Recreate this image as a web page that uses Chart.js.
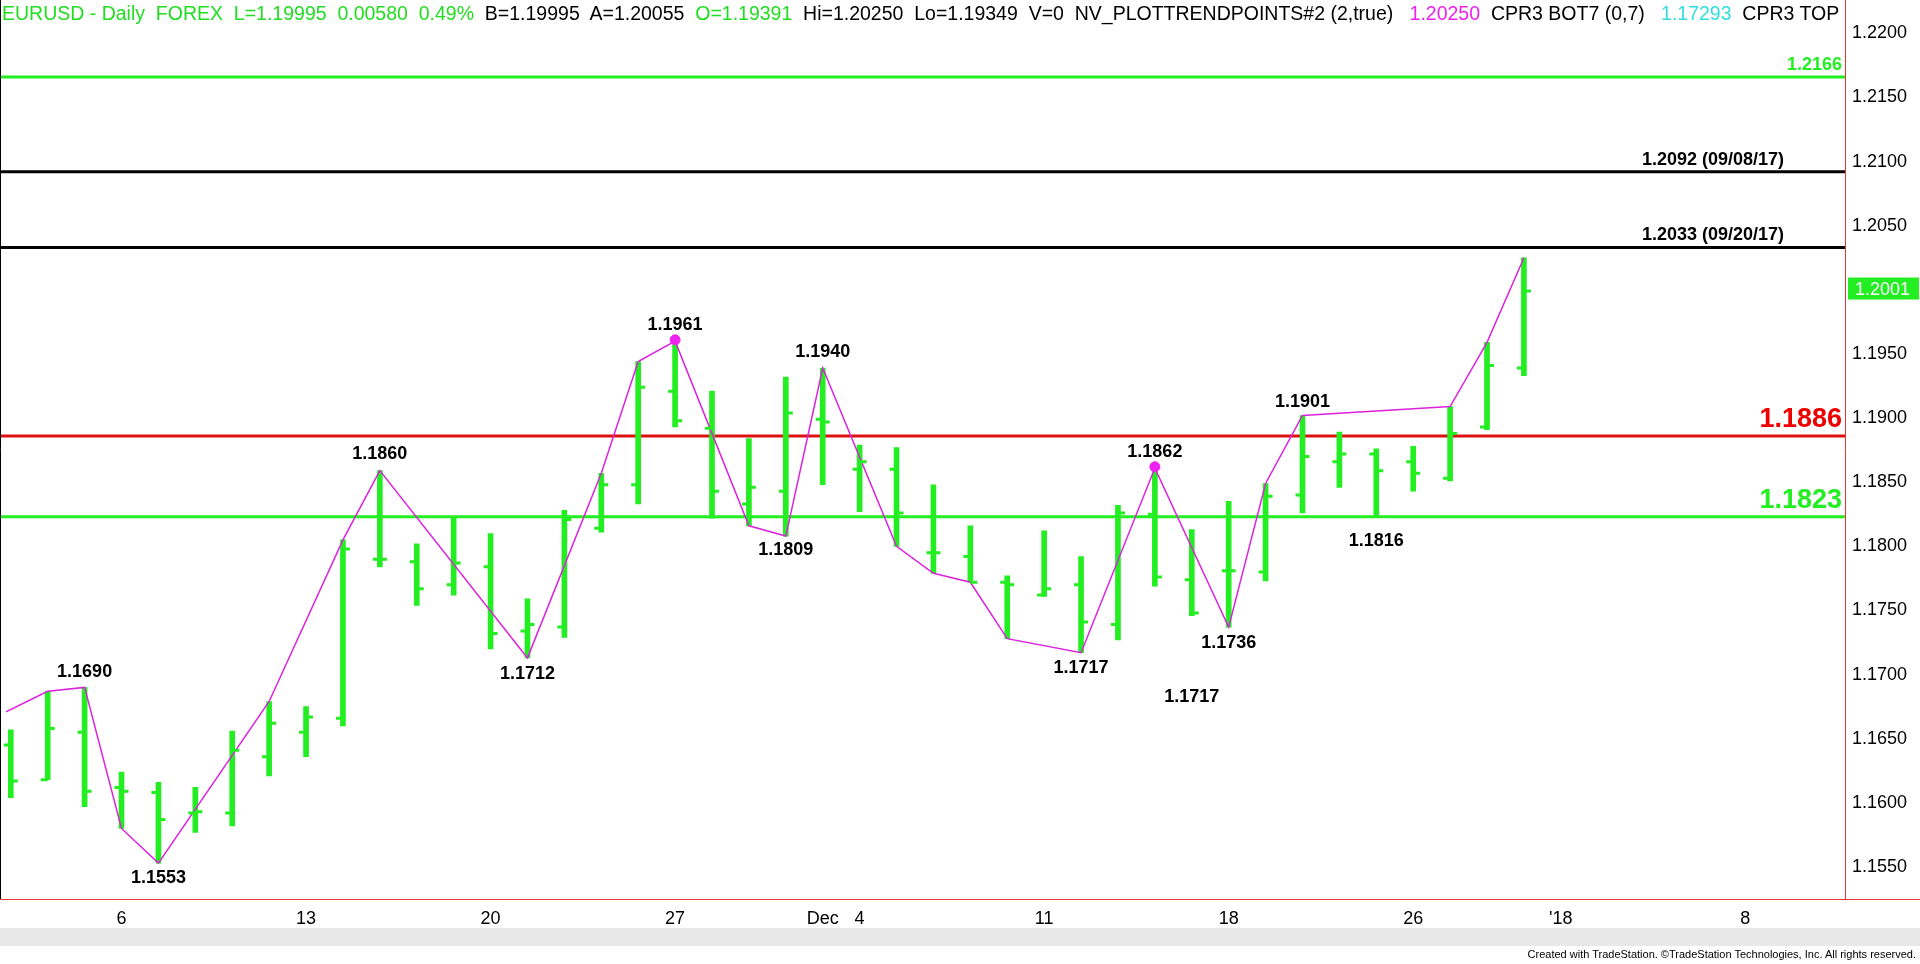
<!DOCTYPE html>
<html>
<head>
<meta charset="utf-8">
<script src="https://cdn.jsdelivr.net/npm/chart.js@4.4.0/dist/chart.umd.min.js"></script>
<style>
  html, body { margin: 0; padding: 0; background: #fff; overflow: hidden; }
  #wrap { position: relative; width: 1920px; height: 964px; }
  #title { position: absolute; left: 2px; top: 2px; width: 1840px; white-space: nowrap; overflow: hidden;
    font: 19.5px "Liberation Sans", Arial, sans-serif; color: #000; }
  #title .g { color: #22dd22; }
  #title .m { color: #ee22ee; }
  #title .c { color: #33dddd; }
  #scroll { position: absolute; left: 0; top: 928px; width: 1920px; height: 18px; background: #e8e8e8; }
  #foot { position: absolute; right: 4px; top: 948px; font: 11px "Liberation Sans", Arial, sans-serif; color: #000; }
</style>
</head>
<body>
<div id="wrap">
  <canvas id="chart" width="1920" height="964"></canvas>
  <div id="title"><span class="g">EURUSD - Daily&nbsp; FOREX&nbsp; L=1.19995&nbsp; 0.00580&nbsp; 0.49%</span>&nbsp; B=1.19995&nbsp; A=1.20055&nbsp; <span class="g">O=1.19391</span>&nbsp; Hi=1.20250&nbsp; Lo=1.19349&nbsp; V=0&nbsp; NV_PLOTTRENDPOINTS#2 (2,true)&nbsp;&nbsp; <span class="m">1.20250</span>&nbsp; CPR3 BOT7 (0,7)&nbsp;&nbsp; <span class="c">1.17293</span>&nbsp; CPR3 TOP ...</div>
  <div id="scroll"></div>
  <div id="foot">Created with TradeStation. ©TradeStation Technologies, Inc. All rights reserved.</div>
</div>
<script>
// bar index 1 = Nov 1 2017, trading days only
const opens  = [1.1645,1.1618,1.1655,1.1612,1.1608,1.1592,1.1592,1.1636,1.1655,1.1666,1.1790,1.1788,1.1770,1.1784,1.1734,1.1737,1.1814,1.1848,1.1921,1.1892,1.1833,1.1843,1.1899,1.1860,1.1860,1.1795,1.1792,1.1772,1.1762,1.1770,1.1739,1.1825,1.1774,1.1781,1.1780,1.1840,1.1866,1.1872,1.1866,1.1853,1.1893,1.1939];
const highs  = [1.1657,1.1687,1.1690,1.1624,1.1616,1.1612,1.1656,1.1679,1.1675,1.1805,1.1859,1.1802,1.1822,1.1810,1.1759,1.1828,1.1857,1.1944,1.1960,1.1921,1.1884,1.1932,1.1939,1.1879,1.1877,1.1848,1.1816,1.1777,1.1812,1.1792,1.1832,1.1861,1.1813,1.1835,1.1849,1.1902,1.1889,1.1876,1.1878,1.1909,1.1959,1.2025];
const lows   = [1.1604,1.1618,1.1597,1.1580,1.1553,1.1577,1.1582,1.1621,1.1636,1.1660,1.1784,1.1754,1.1762,1.1720,1.1713,1.1729,1.1811,1.1833,1.1893,1.1822,1.1816,1.1808,1.1848,1.1827,1.1800,1.1779,1.1772,1.1728,1.1761,1.1717,1.1727,1.1769,1.1746,1.1737,1.1773,1.1826,1.1846,1.1824,1.1843,1.1851,1.1891,1.1933];
const closes = [1.1617,1.1658,1.1609,1.1609,1.1587,1.1593,1.1641,1.1662,1.1667,1.1798,1.1790,1.1767,1.1787,1.1732,1.1739,1.1821,1.1848,1.1924,1.1898,1.1843,1.1846,1.1904,1.1897,1.1866,1.1826,1.1795,1.1772,1.1770,1.1767,1.1741,1.1826,1.1776,1.1748,1.1781,1.1839,1.1870,1.1872,1.1859,1.1857,1.1888,1.1941,1.1999];

// trend points: [bar index, price]
const trendPoints = [[0.87,1.1671],[2,1.1687],[3,1.1690],[4,1.1580],[5,1.1553],[8,1.1679],[10,1.1805],[11,1.1859],[15,1.1713],[17,1.1857],[18,1.1944],[19,1.1960],[21,1.1816],[22,1.1808],[23,1.1939],[25,1.1800],[26,1.1779],[27,1.1772],[28,1.1728],[30,1.1717],[32,1.1861],[34,1.1737],[35,1.1849],[36,1.1902],[40,1.1909],[41,1.1959],[42,1.2025]];
const pivotDots = [[19,1.1961],[32,1.1862]];

// pivot labels: [bar index, price, text, above?]
const pivotLabels = [[3,1.1690,"1.1690",true],[5,1.1553,"1.1553",false],[11,1.1860,"1.1860",true],[15,1.1712,"1.1712",false],[19,1.1961,"1.1961",true],[22,1.1809,"1.1809",false],[23,1.1940,"1.1940",true],[30,1.1717,"1.1717",false],[33,1.1694,"1.1717",false],[32,1.1862,"1.1862",true],[34,1.1736,"1.1736",false],[36,1.1901,"1.1901",true],[38,1.1816,"1.1816",false]];

const levels = [
  { price: 1.2166, color: "#22ee22", text: "1.2166", size: 18, right: 0 },
  { price: 1.2092, color: "#000000", text: "1.2092 (09/08/17)", size: 18, right: 58 },
  { price: 1.2033, color: "#000000", text: "1.2033 (09/20/17)", size: 18, right: 58 },
  { price: 1.1886, color: "#dd1111", text: "1.1886", size: 27, right: 0, textColor: "#ee0000" },
  { price: 1.1823, color: "#22ee22", text: "1.1823", size: 27, right: 0 }
];

const xTickPos   = [4, 9, 14, 19, 23, 24, 29, 34, 39, 43, 48];
const xTickLabel = ["6", "13", "20", "27", "Dec", "4", "11", "18", "26", "'18", "8"];
const yTicks = [1.155,1.16,1.165,1.17,1.175,1.18,1.185,1.19,1.195,1.2,1.205,1.21,1.215,1.22];
const lastPrice = 1.2001;

const ohlcPlugin = {
  id: "ohlc",
  beforeDatasetsDraw(chart) {
    const { ctx, chartArea: a, scales: { y } } = chart;
    ctx.save();
    for (const lv of levels) {
      const py = y.getPixelForValue(lv.price);
      ctx.strokeStyle = lv.color; ctx.lineWidth = 3;
      ctx.beginPath(); ctx.moveTo(0, py); ctx.lineTo(a.right, py); ctx.stroke();
    }
    ctx.restore();
  },
  afterDatasetsDraw(chart) {
    const { ctx, chartArea: a, scales: { x, y } } = chart;
    ctx.save();
    ctx.strokeStyle = "#22ee22"; ctx.lineWidth = 3;
    opens.forEach((o, i) => {
      const px = x.getPixelForValue(i + 1);
      ctx.beginPath();
      ctx.moveTo(px - 7, y.getPixelForValue(o)); ctx.lineTo(px, y.getPixelForValue(o));
      ctx.moveTo(px, y.getPixelForValue(closes[i])); ctx.lineTo(px + 7, y.getPixelForValue(closes[i]));
      ctx.stroke();
    });
    ctx.textAlign = "right"; ctx.textBaseline = "bottom";
    for (const lv of levels) {
      ctx.fillStyle = lv.textColor || lv.color;
      ctx.font = `bold ${lv.size}px "Liberation Sans", Arial, sans-serif`;
      ctx.fillText(lv.text, a.right - 3 - lv.right, y.getPixelForValue(lv.price) - 3);
    }
    ctx.fillStyle = "#000"; ctx.textAlign = "center";
    ctx.font = `bold 18px "Liberation Sans", Arial, sans-serif`;
    for (const [i, p, t, up] of pivotLabels) {
      const px = x.getPixelForValue(i), py = y.getPixelForValue(p);
      ctx.textBaseline = up ? "bottom" : "top";
      ctx.fillText(t, px, up ? py - 6 : py + 6);
    }
    // last price badge
    const by = y.getPixelForValue(lastPrice);
    ctx.fillStyle = "#22ee22";
    ctx.fillRect(a.right + 3, by - 11, 1920 - a.right - 4, 22);
    ctx.fillStyle = "#fff"; ctx.textAlign = "left"; ctx.textBaseline = "middle";
    ctx.font = `18px "Liberation Sans", Arial, sans-serif`;
    ctx.fillText(lastPrice.toFixed(4), a.right + 10, by + 1);
    // axis borders
    ctx.strokeStyle = "#ee3333"; ctx.lineWidth = 1;
    ctx.beginPath(); ctx.moveTo(0, a.bottom + 0.5); ctx.lineTo(1920, a.bottom + 0.5);
    ctx.moveTo(a.right + 0.5, 0); ctx.lineTo(a.right + 0.5, a.bottom); ctx.stroke();
    ctx.strokeStyle = "#000";
    ctx.beginPath(); ctx.moveTo(0.5, 0); ctx.lineTo(0.5, a.bottom); ctx.stroke();
    ctx.restore();
  }
};

new Chart(document.getElementById("chart"), {
  data: {
    datasets: [
      {
        type: "bar",
        data: highs.map((h, i) => ({ x: i + 1, y: [lows[i], h] })),
        backgroundColor: "#22ee22",
        barThickness: 5,
        order: 2
      },
      {
        type: "line",
        data: trendPoints.map(([i, p]) => ({ x: i, y: p })),
        borderColor: "#dd22dd",
        borderWidth: 1.5,
        pointRadius: 0,
        tension: 0,
        order: 1
      },
      {
        type: "scatter",
        data: pivotDots.map(([i, p]) => ({ x: i, y: p })),
        backgroundColor: "#ee22ee",
        borderColor: "#ee22ee",
        pointRadius: 5,
        order: 0
      }
    ]
  },
  options: {
    responsive: false,
    animation: false,
    layout: { padding: { top: 3, bottom: 38, left: -5, right: 0 } },
    plugins: { legend: { display: false }, tooltip: { enabled: false } },
    scales: {
      x: {
        type: "linear",
        min: 0.87,
        max: 50.7,
        offset: false,
        grid: { display: false, drawTicks: true, tickLength: 6, tickColor: "#000" },
        border: { display: false },
        afterBuildTicks: (s) => { s.ticks = xTickPos.map((v) => ({ value: v })); },
        ticks: {
          autoSkip: false,
          maxRotation: 0,
          color: "#000",
          font: { family: "Liberation Sans", size: 18 },
          callback: (v) => xTickLabel[xTickPos.indexOf(v)]
        },
        afterFit: (s) => { s.height = 27; }
      },
      y: {
        position: "right",
        min: 1.1525,
        max: 1.2216,
        grid: { display: false, drawTicks: true, tickLength: 5, tickColor: "#000" },
        border: { display: false },
        afterBuildTicks: (s) => { s.ticks = yTicks.map((v) => ({ value: v })); },
        ticks: {
          color: "#000",
          padding: 2,
          font: { family: "Liberation Sans", size: 18 },
          callback: (v) => v.toFixed(4)
        },
        afterFit: (s) => { s.width = 75; }
      }
    }
  },
  plugins: [ohlcPlugin]
});
</script>
</body>
</html>
